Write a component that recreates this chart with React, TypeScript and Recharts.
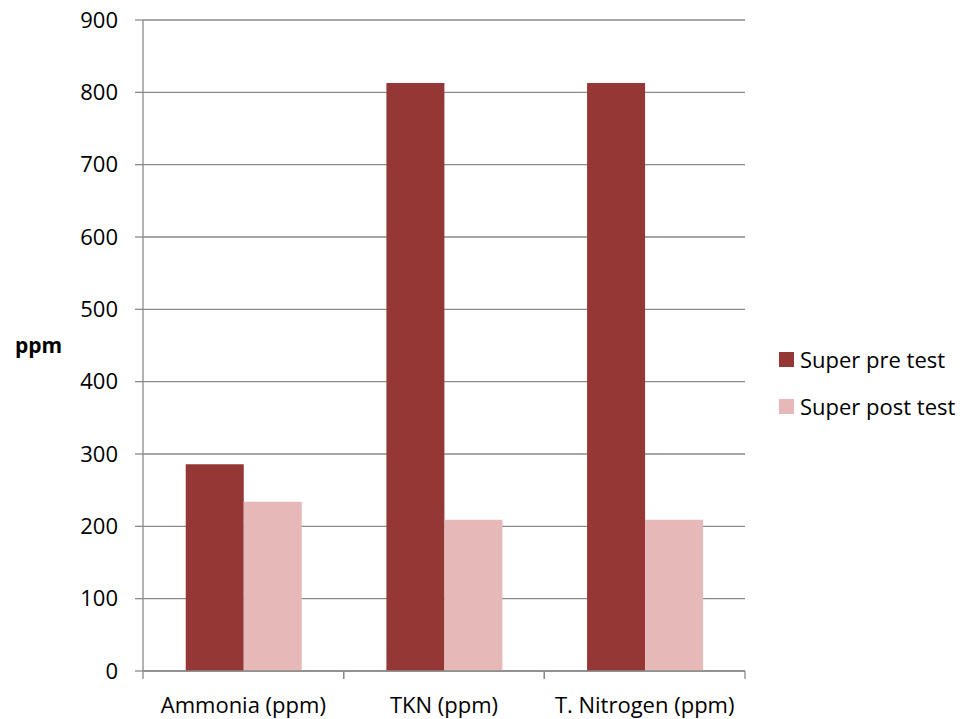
import React from 'react';
import { BarChart, Bar, XAxis, YAxis, CartesianGrid, Legend } from 'recharts';

const categories = ['Ammonia (ppm)', 'TKN (ppm)', 'T. Nitrogen (ppm)'];
const preTest = [286, 813, 813];
const postTest = [234, 209, 209];
const yTicks = [0, 100, 200, 300, 400, 500, 600, 700, 800, 900];
const seriesNames = ['Super pre test', 'Super post test'];
const colors = ['#953735', '#E6B9B8'];

const data = categories.map((c, i) => ({ name: c, pre: preTest[i], post: postTest[i] }));

const FONT = '"Open Sans", sans-serif';
const GRID = '#8a8a8a';
const X_TICK_SIZE = 8;
const X_TICK_MARGIN = 18;

const XTick = (props: any) => {
  const { x, y, payload, width, visibleTicksCount } = props;
  const band = width && visibleTicksCount ? width / visibleTicksCount : 0;
  const axisY = y - X_TICK_SIZE - X_TICK_MARGIN;
  return (
    <g>
      {band > 0 && (
        <>
          <line x1={x - band / 2} x2={x - band / 2} y1={axisY} y2={axisY + X_TICK_SIZE} stroke={GRID} strokeWidth={1.3} />
          <line x1={x + band / 2} x2={x + band / 2} y1={axisY} y2={axisY + X_TICK_SIZE} stroke={GRID} strokeWidth={1.3} />
        </>
      )}
      <text x={x} y={y} dy="0.71em" textAnchor="middle" fill="#000" fontSize={22} fontFamily={FONT}>
        {payload.value}
      </text>
    </g>
  );
};

const LegendContent = () => (
  <div style={{ fontFamily: FONT, fontSize: 22, color: '#000' }}>
    {seriesNames.map((n, i) => (
      <div key={n} style={{ display: 'flex', alignItems: 'center', height: 26, marginBottom: i === 0 ? 21 : 0 }}>
        <div style={{ width: 15, height: 15, background: colors[i], marginRight: 6 }} />
        <span>{n}</span>
      </div>
    ))}
  </div>
);

export default function App() {
  return (
    <div style={{ position: 'absolute', left: 0, top: 0, background: '#fff' }}>
      <BarChart
        width={978}
        height={719}
        data={data}
        margin={{ top: 20, right: 33, bottom: 0, left: 0 }}
        barCategoryGap="21.3%"
        barGap={0}
      >
        <CartesianGrid horizontal vertical={false} stroke={GRID} strokeWidth={1.3} />
        <XAxis
          dataKey="name"
          height={48}
          axisLine={{ stroke: GRID, strokeWidth: 1.3 }}
          tickLine={false}
          tickSize={X_TICK_SIZE}
          tickMargin={X_TICK_MARGIN}
          tick={<XTick />}
          interval={0}
        />
        <YAxis
          width={143}
          domain={[0, 900]}
          ticks={yTicks}
          axisLine={{ stroke: GRID, strokeWidth: 1.3 }}
          tickLine={{ stroke: GRID, strokeWidth: 1.3 }}
          tickSize={8}
          tickMargin={17}
          tick={{ fill: '#000', fontSize: 22, fontFamily: FONT }}
          label={{ value: 'ppm', position: 'insideLeft', offset: 15, angle: 0, style: { fontFamily: FONT, fontSize: 21, fontWeight: 'bold', fill: '#000' } }}
        />
        <Legend
          layout="vertical"
          align="right"
          verticalAlign="middle"
          content={<LegendContent />}
          wrapperStyle={{ left: 779, top: 346, width: 200 }}
        />
        <Bar dataKey="pre" name={seriesNames[0]} fill={colors[0]} isAnimationActive={false} />
        <Bar dataKey="post" name={seriesNames[1]} fill={colors[1]} isAnimationActive={false} />
      </BarChart>
    </div>
  );
}
